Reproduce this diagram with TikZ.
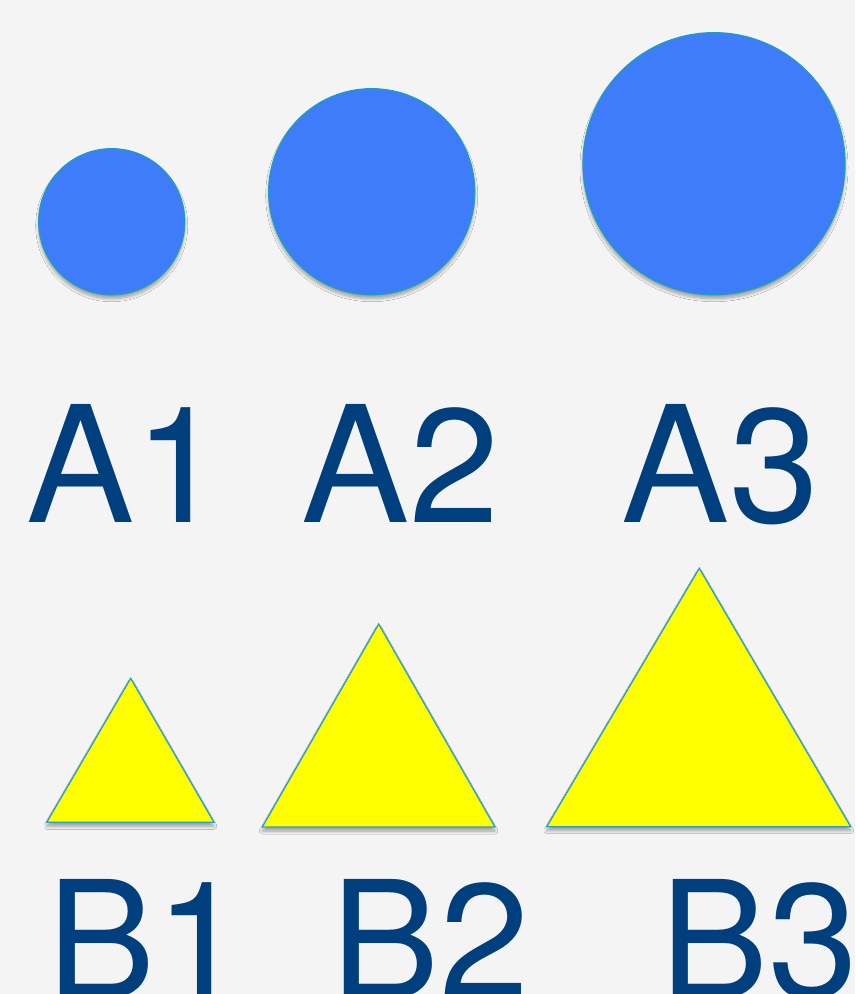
\documentclass[tikz,border=0pt]{standalone}
\usepackage{fontspec}
\setmainfont{TeX Gyre Heros}
\usetikzlibrary{shadows.blur}
\definecolor{bg}{HTML}{F4F4F4}
\definecolor{cfill}{HTML}{3E7CFA}
\definecolor{cedge}{HTML}{1C9EC2}
\definecolor{tfill}{HTML}{FFFF00}
\definecolor{tedge}{HTML}{2A9DC9}
\definecolor{ink}{HTML}{003F7E}
\begin{document}
\begin{tikzpicture}[x=1pt,y=-1pt,
  disc/.style={circle,inner sep=0pt,fill=cfill,draw=cedge,line width=1.3pt,
    blur shadow={shadow xshift=0pt,shadow yshift=-4pt,shadow blur steps=8,shadow blur radius=3pt,shadow opacity=35}},
  tri/.style={fill=tfill,draw=tedge,line width=1.3pt,line join=miter,
    blur shadow={shadow xshift=0pt,shadow yshift=-4pt,shadow blur steps=8,shadow blur radius=3pt,shadow opacity=35}},
  lbl/.style={anchor=base west,inner sep=0pt,text=ink,font=\fontsize{162}{162}\selectfont}]
\fill[bg] (0,0) rectangle (855,994);
\useasboundingbox (0,0) rectangle (855,994);
% circles
\node[disc,minimum size=146pt] (A1) at (111.7,221.7) {};
\node[disc,minimum size=206pt] (A2) at (371.7,191.7) {};
\node[disc,minimum size=262pt] (A3) at (714,163.7) {};
% labels A
\node[lbl] (tA1) at (26.5,522) {A1};
\node[lbl] (tA2) at (301.5,522) {A2};
\node[lbl] (tA3) at (621.5,522) {A3};
% triangles
\coordinate (b1t) at (130.7,678.3);
\coordinate (b1l) at (46.7,822.3);
\coordinate (b1r) at (214,822.3);
\coordinate (b2t) at (378.7,624);
\coordinate (b2l) at (262.3,827);
\coordinate (b2r) at (495,827);
\coordinate (b3t) at (699.3,568.3);
\coordinate (b3l) at (546.7,826.7);
\coordinate (b3r) at (850.7,826.7);
\path[tri] (b1t) -- (b1r) -- (b1l) -- cycle;
\path[tri] (b2t) -- (b2r) -- (b2l) -- cycle;
\path[tri] (b3t) -- (b3r) -- (b3l) -- cycle;
% labels B
\node[lbl] (tB1) at (47.4,997.7) {B1};
\node[lbl] (tB2) at (331.4,997.7) {B2};
\node[lbl] (tB3) at (660.4,997.7) {B3};
\end{tikzpicture}
\end{document}
